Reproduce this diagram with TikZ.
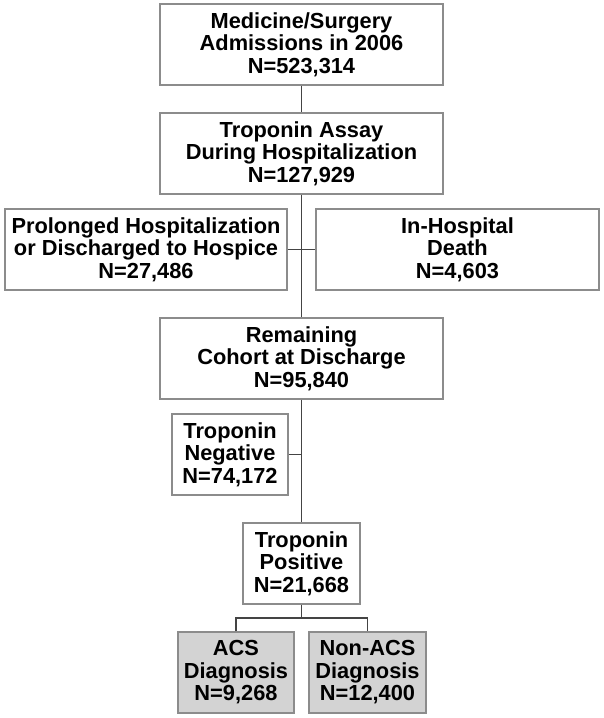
\documentclass[tikz,border=0pt]{standalone}
\usepackage{fontspec}
\setmainfont{Liberation Sans}
\begin{document}
\begin{tikzpicture}[x=1pt,y=-1pt,
  box/.style={draw=boxgray, line width=1.3pt, fill=white, rectangle, align=center,
    minimum height=81pt, inner sep=0pt,
    font=\fontsize{21.8}{22.5}\selectfont\bfseries},
  shaded/.style={box, fill=fillgray},
  conn/.style={draw=conngray, line width=1.8pt}]
\definecolor{boxgray}{HTML}{8C8C8C}
\definecolor{conngray}{HTML}{444444}
\definecolor{fillgray}{HTML}{D3D3D3}
\useasboundingbox (0,0) rectangle (604,718);
\fill[white] (0,0) rectangle (604,718);
\coordinate (br) at (301.5,618);
\node[box, minimum width=283pt] (top) at (301.5,44.5) {Medicine/Surgery\\Admissions in 2006\\N=523,314};
\node[box, minimum width=283pt] (assay) at (301.5,153.5) {Troponin Assay\\During Hospitalization\\N=127,929};
\node[box, minimum width=282pt] (prol) at (146,249.5) {Prolonged Hospitalization\\or Discharged to Hospice\\N=27,486};
\node[box, minimum width=283pt] (death) at (457.5,249.5) {In-Hospital\\Death\\N=4,603};
\node[box, minimum width=283pt] (rem) at (301.5,358.5) {Remaining\\Cohort at Discharge\\N=95,840};
\node[box, minimum width=116pt] (neg) at (230,454.5) {Troponin\\Negative\\N=74,172};
\node[box, minimum width=117pt] (pos) at (301.5,563.5) {Troponin\\Positive\\N=21,668};
\node[shaded, minimum width=116pt] (acs) at (236,672.5) {ACS\\Diagnosis\\N=9,268};
\node[shaded, minimum width=117pt] (nacs) at (367.5,672.5) {Non-ACS\\Diagnosis\\N=12,400};
\draw[conn] (top.south) -- (assay.north);
\draw[conn] (assay.south) -- (rem.north);
\draw[conn] (prol.east) -- (death.west);
\draw[conn] (rem.south) -- (pos.north);
\draw[conn] (neg.east) -- (neg.east -| rem.south);
\draw[conn] (pos.south) -- (br);
\draw[conn] (acs.north) |- (br) -| (nacs.north);
\end{tikzpicture}
\end{document}
